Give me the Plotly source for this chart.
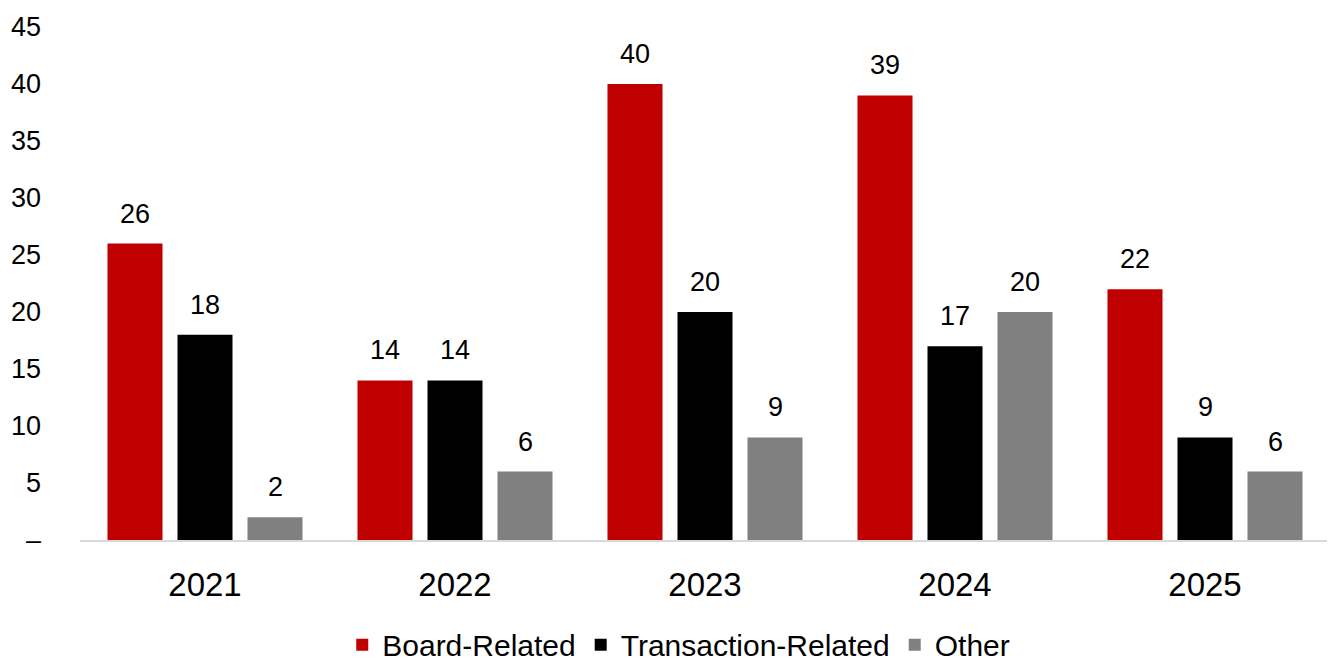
import plotly.graph_objects as go

years = ['2021', '2022', '2023', '2024', '2025']
board_related = [26, 14, 40, 39, 22]
transaction_related = [18, 14, 20, 17, 9]
other = [2, 6, 9, 20, 6]

y_ticks = [0, 5, 10, 15, 20, 25, 30, 35, 40, 45]
y_ticktext = ['–', '5', '10', '15', '20', '25', '30', '35', '40', '45']

SERIES = [
    ('Board-Related', board_related, '#c00000'),
    ('Transaction-Related', transaction_related, '#000000'),
    ('Other', other, '#808080'),
]

FONT = 'Arial, "Liberation Sans", sans-serif'

fig = go.Figure()
for name, vals, color in SERIES:
    fig.add_trace(go.Bar(x=years, y=vals, name=name, marker=dict(color=color, line=dict(width=0))))

# value labels above each bar
annotations = []
offsets = [-0.28, 0, 0.28]
for (name, vals, color), off in zip(SERIES, offsets):
    for i, v in enumerate(vals):
        annotations.append(dict(
            x=i + off, y=v, xref='x', yref='y', text=str(v), showarrow=False,
            yanchor='middle', yshift=30, font=dict(size=27, color='#000000', family=FONT)))

# the page body adds an 8px offset, so the figure is sized/margined to compensate
fig.update_layout(
    barmode='group',
    bargap=0.16,
    bargroupgap=0.214,
    width=1327, height=656,
    margin=dict(l=72, r=5, t=19, b=124, autoexpand=False),
    paper_bgcolor='white', plot_bgcolor='white',
    font=dict(family=FONT, color='#000000'),
    annotations=annotations,
    xaxis=dict(
        showgrid=False, showline=True, linecolor='#d9d9d9', linewidth=2,
        ticks='', tickfont=dict(size=33), ticklabelstandoff=14, automargin=False,
    ),
    yaxis=dict(
        range=[0, 45], tickvals=y_ticks, ticktext=y_ticktext,
        showgrid=False, showline=False, zeroline=False, ticks='',
        tickfont=dict(size=27), ticklabelstandoff=38, automargin=False,
    ),
    legend=dict(
        orientation='h', x=0.479, xanchor='center', y=-0.204, yanchor='middle',
        font=dict(size=30), itemwidth=30, traceorder='normal',
    ),
    showlegend=True,
)

fig.write_html('out.html')
